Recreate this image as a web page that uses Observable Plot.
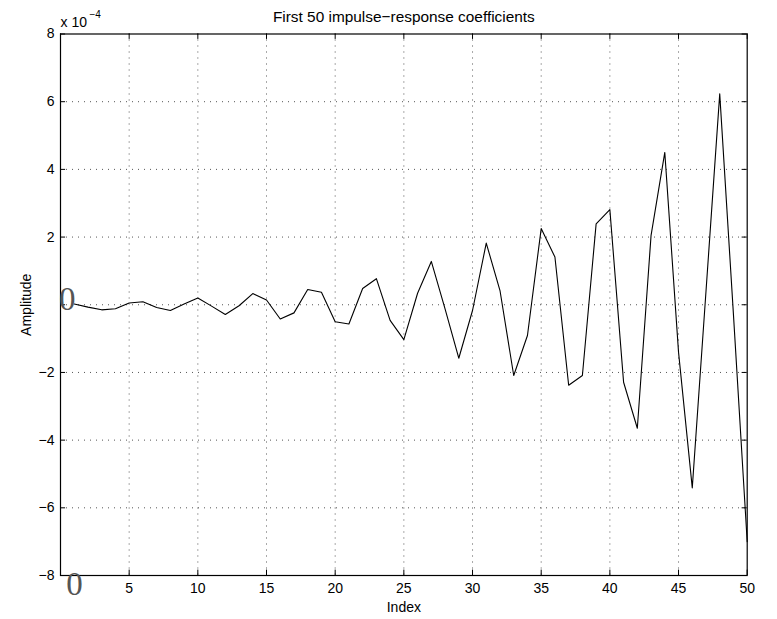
<!DOCTYPE html>
<html>
<head>
<meta charset="utf-8">
<script src="https://cdn.jsdelivr.net/npm/d3@7"></script>
<script src="https://cdn.jsdelivr.net/npm/@observablehq/plot@0.6"></script>
<style>
  html, body { margin: 0; padding: 0; background: #fff; }
</style>
</head>
<body>
<div id="chart"></div>
<script>
// Impulse-response coefficient index
const indexValues = [1,2,3,4,5,6,7,8,9,10,11,12,13,14,15,16,17,18,19,20,
                     21,22,23,24,25,26,27,28,29,30,31,32,33,34,35,36,37,38,39,40,
                     41,42,43,44,45,46,47,48,49,50];
// Amplitude, in units of 1e-4
const amplitudeE4 = [0.02,-0.07,-0.15,-0.12,0.05,0.09,-0.08,-0.17,0.02,0.20,
                     -0.04,-0.29,-0.03,0.33,0.14,-0.42,-0.24,0.45,0.37,-0.50,
                     -0.57,0.48,0.77,-0.46,-1.03,0.34,1.28,-0.12,-1.58,-0.17,
                     1.82,0.42,-2.09,-0.91,2.25,1.41,-2.38,-2.09,2.39,2.81,
                     -2.29,-3.65,2.05,4.50,-1.40,-5.41,0.40,6.23,-0.30,-7.00];
// Tick values
const xTickLabels = [5,10,15,20,25,30,35,40,45,50];
const xGrid = [5,10,15,20,25,30,35,40,45];
const yTickLabels = [-8,-6,-4,-2,2,4,6,8];
const yGrid = [-6,-4,-2,0,2,4,6];
const xTicksAll = [0,5,10,15,20,25,30,35,40,45,50];
const yTicksAll = [-8,-6,-4,-2,0,2,4,6,8];

const titleText = "First 50 impulse\u2212response coefficients";
const xLabel = "Index";
const yLabel = "Amplitude";

const data = indexValues.map((x, i) => ({x, y: amplitudeE4[i]}));

const xMin = 0, xMax = 50, yMin = -8, yMax = 8;
const tickLenX = 0.37;  // inward tick length in x data units (~5px)
const tickLenY = 0.16;  // inward tick length in y data units (~5px)
const fmt = d3.format("d");
const font = "'Liberation Sans', Arial, Helvetica, sans-serif";
const serif = "'Liberation Serif', 'DejaVu Serif', serif";

const chart = Plot.plot({
  width: 777,
  height: 619,
  marginLeft: 60,
  marginRight: 30.3,
  marginTop: 33.5,
  marginBottom: 44,
  style: {fontFamily: font, fontSize: "14px", color: "#000", background: "#fff"},
  x: {domain: [xMin, xMax]},
  y: {domain: [yMin, yMax]},
  marks: [
    // dotted grid
    Plot.ruleX(xGrid, {x: d => d, stroke: "#555", strokeWidth: 1, strokeDasharray: "1,5"}),
    Plot.ruleY(yGrid, {y: d => d, stroke: "#555", strokeWidth: 1, strokeDasharray: "1,5"}),
    // inward ticks on all four sides
    Plot.ruleX(xTicksAll, {x: d => d, y1: yMin, y2: yMin + tickLenY, stroke: "#000"}),
    Plot.ruleX(xTicksAll, {x: d => d, y1: yMax, y2: yMax - tickLenY, stroke: "#000"}),
    Plot.ruleY(yTicksAll, {y: d => d, x1: xMin, x2: xMin + tickLenX, stroke: "#000"}),
    Plot.ruleY(yTicksAll, {y: d => d, x1: xMax, x2: xMax - tickLenX, stroke: "#000"}),
    // data line
    Plot.line(data, {x: "x", y: "y", stroke: "#000", strokeWidth: 1.1}),
    Plot.frame({stroke: "#000", strokeWidth: 1.2}),
    // axes labels (no outward ticks)
    Plot.axisX({ticks: xTickLabels, tickSize: 0, tickPadding: 8, tickFormat: fmt, fontSize: 14, label: null}),
    Plot.axisY({ticks: yTickLabels, tickSize: 0, tickPadding: 6, tickFormat: fmt, fontSize: 14, label: null}),
    // odd serif zero labels at the origin ticks
    Plot.text([0], {x: d => d, y: 0, text: () => "0", dx: 6.7, dy: -5,
      fontFamily: serif, fontSize: 33, fill: "#555", textAnchor: "middle"}),
    Plot.text([0], {x: d => d, y: yMin, text: () => "0", dx: 14, dy: 8.5,
      fontFamily: serif, fontSize: 33, fill: "#555", textAnchor: "middle"}),
    // title and labels
    Plot.text([titleText], {frameAnchor: "top", dy: -16.5, fontSize: 15.4, textAnchor: "middle", lineAnchor: "middle"}),
    Plot.text([xLabel], {frameAnchor: "bottom", dy: 32, fontSize: 14, textAnchor: "middle", lineAnchor: "middle"}),
    Plot.text([yLabel], {frameAnchor: "left", dx: -34, rotate: -90, fontSize: 14, textAnchor: "middle", lineAnchor: "middle"}),
    Plot.text(["x 10"], {frameAnchor: "top-left", dy: -11, fontSize: 14, textAnchor: "start", lineAnchor: "middle"}),
    Plot.text(["\u22124"], {frameAnchor: "top-left", dx: 29, dy: -19, fontSize: 10, textAnchor: "start", lineAnchor: "middle"})
  ]
});
document.getElementById("chart").appendChild(chart);
</script>
</body>
</html>
